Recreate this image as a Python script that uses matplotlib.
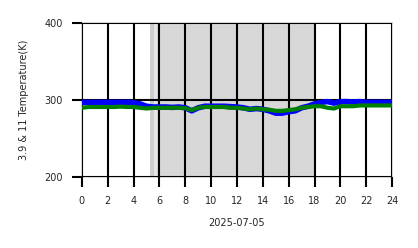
import matplotlib
matplotlib.use('Agg')
import matplotlib.pyplot as plt
import numpy as np

# hours of the day, half-hourly readings
hours = np.arange(0, 24.01, 0.5)

# brightness temperature 3.9 um (blue) and 11 um (green), K
t39 = [297, 297, 297, 297, 297, 297, 297, 297, 296.5, 295,
       292, 291, 291, 291, 290.5, 291, 290, 286, 290, 292,
       292, 292, 292, 291.5, 291, 290, 288, 289, 288, 286,
       283, 283, 285, 286, 290, 292, 295, 297, 298, 296,
       298, 298, 297.5, 298, 297, 297, 297, 297, 297]
t11 = [290, 291, 291, 291, 291, 291, 291.5, 291, 291, 290,
       289, 290, 290, 290, 290, 290, 289.5, 287, 290, 291,
       291, 291, 291, 290, 290, 289, 288, 289, 288, 287.5,
       286, 286, 287, 288, 290, 291, 292, 292, 290, 289,
       292, 292, 292, 293, 293, 293, 293, 293, 293]

night_start = 5.3
day_start = 5.8
day_end = 18

fig = plt.figure(figsize=(4.18, 2.48), dpi=100)
ax = fig.add_axes([0.196, 0.286, 0.742, 0.621])

# shading
ax.axvspan(night_start, day_end, color='#e4e4e4', lw=0, zorder=0)
ax.axvspan(night_start, night_start + 0.25, color='#cdcdcd', lw=0, zorder=0)
ax.axvspan(day_start, day_end, color='#d7d7d7', lw=0, zorder=0)

ax.plot(hours, t39, color='blue', lw=4, zorder=3)
ax.plot(hours, t11, color='green', lw=3, zorder=4)

ax.set_xlim(0, 24)
ax.set_ylim(200, 400)
ax.set_xticks(np.arange(0, 25, 2))
ax.set_yticks([200, 300, 400])
ax.grid(True, color='black', lw=1.5, zorder=2)
ax.set_axisbelow(False)
for s in ax.spines.values():
    s.set_color('#cccccc')
    s.set_linewidth(1.2)
ax.tick_params(length=7.5, width=1.5, color='black', labelsize=7,
               labelcolor='#262626', pad=6)

ax.set_xlabel('2025-07-05', fontsize=7, color='#262626', labelpad=9)
ax.set_ylabel('3.9 & 11 Temperature(K)', fontsize=7, color='#262626', labelpad=11)

fig.savefig('out.png', dpi=100)
